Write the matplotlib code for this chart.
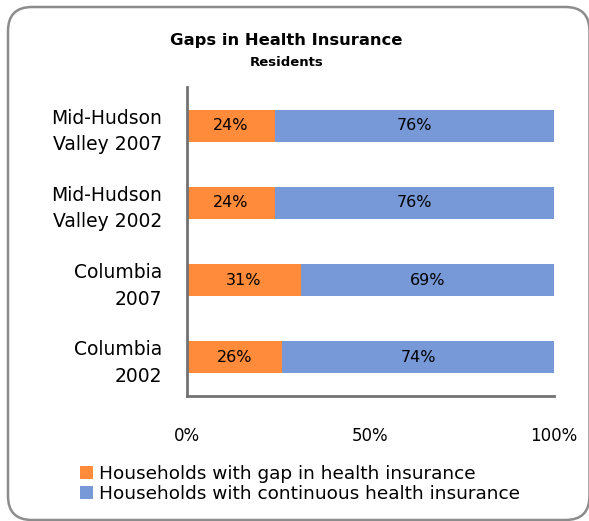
import matplotlib.pyplot as plt
from matplotlib.patches import FancyBboxPatch, Rectangle

# data
categories = ["Mid-Hudson\nValley 2007", "Mid-Hudson\nValley 2002", "Columbia\n2007", "Columbia\n2002"]
gap_pct = [24, 24, 31, 26]
continuous_pct = [76, 76, 69, 74]
series_names = ["Households with gap in health insurance",
                "Households with continuous health insurance"]

orange = "#FF8B3B"
blue = "#7799D7"
axis_grey = "#727272"

plt.rcParams["font.family"] = ["DejaVu Sans"]

W, H = 589, 521
fig = plt.figure(figsize=(W / 100, H / 100), dpi=100)

# background axes in pixel units, only for the rounded frame
bg = fig.add_axes([0, 0, 1, 1], zorder=-1)
bg.set_xlim(0, W)
bg.set_ylim(0, H)
bg.axis("off")
frame = FancyBboxPatch((8, 1), 581.5, H - 8,
                       boxstyle="round,pad=0,rounding_size=24",
                       facecolor="none", edgecolor="#8c8c8c",
                       linewidth=1.8, clip_on=False)
bg.add_patch(frame)

ax = fig.add_axes([187 / W, 1 - 396 / H, (554 - 187) / W, (396 - 87) / H])
ax.set_facecolor("none")

ypos = list(range(len(categories)))
ax.barh(ypos, gap_pct, height=0.415, color=orange)
ax.barh(ypos, continuous_pct, left=gap_pct, height=0.415, color=blue)

for y, g, c in zip(ypos, gap_pct, continuous_pct):
    ax.text(g / 2, y, f"{g}%", ha="center", va="center", fontsize=11.5, color="black")
    ax.text(g + c / 2, y, f"{c}%", ha="center", va="center", fontsize=11.5, color="black")

ax.set_xlim(0, 100)
ax.set_ylim(len(categories) - 0.5, -0.5)
ax.set_yticks(ypos)
ax.set_yticklabels(categories, fontsize=13.5, linespacing=1.5)
ax.set_xticks([0, 50, 100])
ax.set_xticklabels(["0%", "50%", "100%"], fontsize=12)
ax.tick_params(axis="y", length=0, pad=18)
ax.tick_params(axis="x", length=0, pad=22)

for side in ["top", "right"]:
    ax.spines[side].set_visible(False)
for side in ["left", "bottom"]:
    ax.spines[side].set_color(axis_grey)
    ax.spines[side].set_linewidth(2)

fig.text(286.5 / W, 1 - 41 / H, "Gaps in Health Insurance", ha="center", va="center",
         fontsize=11.8, fontweight="bold")
fig.text(286.5 / W, 1 - 62 / H, "Residents", ha="center", va="center",
         fontsize=9.5, fontweight="bold")

handles = [Rectangle((0, 0), 1, 1, facecolor=orange),
           Rectangle((0, 0), 1, 1, facecolor=blue)]
fig.legend(handles, series_names, loc="upper left",
           bbox_to_anchor=(71 / W, 1 - 456 / H), frameon=False,
           fontsize=13.3, handlelength=0.7, handleheight=0.7,
           handletextpad=0.3, labelspacing=0.1, borderpad=0)

fig.savefig("out.png", dpi=100)
